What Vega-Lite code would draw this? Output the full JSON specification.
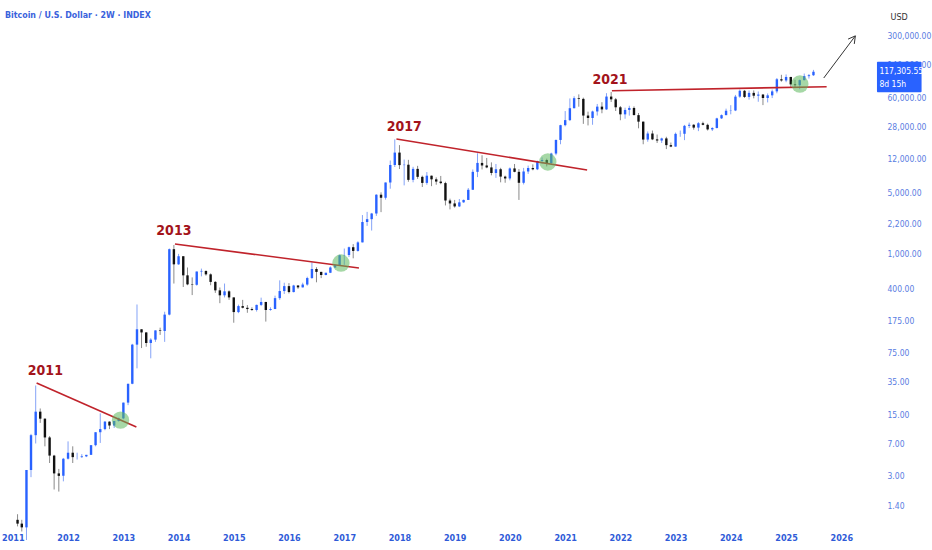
{
  "$schema": "https://vega.github.io/schema/vega-lite/v6.json",
  "width": 880,
  "height": 528,
  "autosize": "none",
  "padding": {"left": 0, "top": 0, "right": 52, "bottom": 22},
  "background": "#ffffff",
  "title": {
    "text": "Bitcoin / U.S. Dollar · 2W · INDEX",
    "anchor": "start",
    "frame": "group",
    "orient": "top",
    "offset": -20,
    "dx": 5,
    "font": "DejaVu Sans Condensed, Roboto, sans-serif",
    "fontSize": 8.8,
    "fontWeight": "bold",
    "color": "#3a62dc"
  },
  "config": {
    "view": {"stroke": null},
    "axis": {"labelFont": "DejaVu Sans Condensed, Roboto, sans-serif", "grid": false, "domain": false, "ticks": false, "tickSize": 0}
  },
  "datasets": {
    "candles": [
      {"d":"2011-02-01","o":0.95,"h":1.1,"l":0.8,"c":0.86},
      {"d":"2011-03-01","o":0.86,"h":0.95,"l":0.7,"c":0.78},
      {"d":"2011-04-01","o":0.78,"h":3.5,"l":0.56,"c":3.5},
      {"d":"2011-05-01","o":3.5,"h":9,"l":2.9,"c":8.7},
      {"d":"2011-06-01","o":8.7,"h":31.9,"l":7,"c":16.1},
      {"d":"2011-07-01","o":16.1,"h":17.5,"l":12,"c":13.4},
      {"d":"2011-08-01","o":13.4,"h":13.5,"l":6.5,"c":8.2},
      {"d":"2011-09-01","o":8.2,"h":8.5,"l":4.2,"c":5.1},
      {"d":"2011-10-01","o":5.1,"h":5.2,"l":2.1,"c":3.2},
      {"d":"2011-11-01","o":3.2,"h":3.6,"l":1.99,"c":3},
      {"d":"2011-12-01","o":3,"h":4.8,"l":2.6,"c":4.7},
      {"d":"2012-01-01","o":4.7,"h":7.4,"l":4.6,"c":5.5},
      {"d":"2012-02-01","o":5.5,"h":6.5,"l":4.2,"c":4.9},
      {"d":"2012-03-01","o":4.9,"h":5.5,"l":4.6,"c":4.9},
      {"d":"2012-04-01","o":4.9,"h":5.3,"l":4.8,"c":5.0},
      {"d":"2012-05-01","o":5,"h":5.2,"l":4.9,"c":5.2},
      {"d":"2012-06-01","o":5.2,"h":6.7,"l":5.2,"c":6.7},
      {"d":"2012-07-01","o":6.7,"h":9.4,"l":6.5,"c":9.4},
      {"d":"2012-08-01","o":9.4,"h":15.4,"l":7.1,"c":10.2},
      {"d":"2012-09-01","o":10.2,"h":12.6,"l":9.9,"c":12.4},
      {"d":"2012-10-01","o":12.4,"h":12.5,"l":10.2,"c":11.2},
      {"d":"2012-11-01","o":11.2,"h":12.6,"l":10.5,"c":12.6},
      {"d":"2012-12-01","o":12.6,"h":13.8,"l":12.4,"c":13.5},
      {"d":"2013-01-01","o":13.5,"h":20.4,"l":13.2,"c":20.4},
      {"d":"2013-02-01","o":20.4,"h":33.4,"l":19.1,"c":33.4},
      {"d":"2013-03-01","o":33.4,"h":95,"l":33,"c":93},
      {"d":"2013-04-01","o":93,"h":266,"l":50,"c":139},
      {"d":"2013-05-01","o":139,"h":139,"l":85,"c":128},
      {"d":"2013-06-01","o":128,"h":129,"l":88,"c":97},
      {"d":"2013-07-01","o":97,"h":110,"l":65,"c":106},
      {"d":"2013-08-01","o":106,"h":135,"l":100,"c":135},
      {"d":"2013-09-01","o":135,"h":145,"l":120,"c":133},
      {"d":"2013-10-01","o":133,"h":220,"l":100,"c":204},
      {"d":"2013-11-01","o":204,"h":1150,"l":200,"c":1130},
      {"d":"2013-12-01","o":1130,"h":1260,"l":460,"c":760},
      {"d":"2014-01-01","o":760,"h":1000,"l":750,"c":940},
      {"d":"2014-02-01","o":940,"h":940,"l":420,"c":570},
      {"d":"2014-03-01","o":570,"h":700,"l":440,"c":450},
      {"d":"2014-04-01","o":450,"h":540,"l":340,"c":445},
      {"d":"2014-05-01","o":445,"h":630,"l":435,"c":630},
      {"d":"2014-06-01","o":630,"h":680,"l":555,"c":640},
      {"d":"2014-07-01","o":640,"h":645,"l":565,"c":585},
      {"d":"2014-08-01","o":585,"h":600,"l":440,"c":480},
      {"d":"2014-09-01","o":480,"h":490,"l":360,"c":385},
      {"d":"2014-10-01","o":385,"h":415,"l":275,"c":338},
      {"d":"2014-11-01","o":338,"h":460,"l":320,"c":375},
      {"d":"2014-12-01","o":375,"h":385,"l":300,"c":320},
      {"d":"2015-01-01","o":320,"h":320,"l":165,"c":218},
      {"d":"2015-02-01","o":218,"h":265,"l":212,"c":255},
      {"d":"2015-03-01","o":255,"h":300,"l":240,"c":244},
      {"d":"2015-04-01","o":244,"h":262,"l":214,"c":236},
      {"d":"2015-05-01","o":236,"h":247,"l":225,"c":230},
      {"d":"2015-06-01","o":230,"h":265,"l":221,"c":263},
      {"d":"2015-07-01","o":263,"h":318,"l":255,"c":284},
      {"d":"2015-08-01","o":284,"h":285,"l":170,"c":230},
      {"d":"2015-09-01","o":230,"h":247,"l":226,"c":236},
      {"d":"2015-10-01","o":236,"h":335,"l":236,"c":314},
      {"d":"2015-11-01","o":314,"h":500,"l":300,"c":378},
      {"d":"2015-12-01","o":378,"h":470,"l":350,"c":430},
      {"d":"2016-01-01","o":430,"h":465,"l":355,"c":368},
      {"d":"2016-02-01","o":368,"h":445,"l":365,"c":437},
      {"d":"2016-03-01","o":437,"h":440,"l":400,"c":416},
      {"d":"2016-04-01","o":416,"h":470,"l":415,"c":448},
      {"d":"2016-05-01","o":448,"h":550,"l":435,"c":531},
      {"d":"2016-06-01","o":531,"h":800,"l":520,"c":673},
      {"d":"2016-07-01","o":673,"h":705,"l":475,"c":624},
      {"d":"2016-08-01","o":624,"h":625,"l":530,"c":575},
      {"d":"2016-09-01","o":575,"h":610,"l":570,"c":610},
      {"d":"2016-10-01","o":610,"h":720,"l":605,"c":700},
      {"d":"2016-11-01","o":700,"h":755,"l":690,"c":745},
      {"d":"2016-12-01","o":745,"h":980,"l":740,"c":964},
      {"d":"2017-01-01","o":964,"h":1150,"l":750,"c":970},
      {"d":"2017-02-01","o":970,"h":1210,"l":920,"c":1190},
      {"d":"2017-03-01","o":1190,"h":1290,"l":890,"c":1080},
      {"d":"2017-04-01","o":1080,"h":1390,"l":1060,"c":1350},
      {"d":"2017-05-01","o":1350,"h":2760,"l":1350,"c":2300},
      {"d":"2017-06-01","o":2300,"h":3000,"l":2080,"c":2480},
      {"d":"2017-07-01","o":2480,"h":2920,"l":1840,"c":2875},
      {"d":"2017-08-01","o":2875,"h":4760,"l":2700,"c":4700},
      {"d":"2017-09-01","o":4700,"h":5000,"l":2980,"c":4340},
      {"d":"2017-10-01","o":4340,"h":6470,"l":4130,"c":6470},
      {"d":"2017-11-01","o":6470,"h":11500,"l":5500,"c":10230},
      {"d":"2017-12-01","o":10230,"h":20000,"l":9700,"c":14150},
      {"d":"2018-01-01","o":14150,"h":17200,"l":9200,"c":10200},
      {"d":"2018-02-01","o":10200,"h":11800,"l":6000,"c":10300},
      {"d":"2018-03-01","o":10300,"h":11700,"l":6600,"c":6930},
      {"d":"2018-04-01","o":6930,"h":9750,"l":6500,"c":9240},
      {"d":"2018-05-01","o":9240,"h":10000,"l":7100,"c":7500},
      {"d":"2018-06-01","o":7500,"h":7750,"l":5750,"c":6400},
      {"d":"2018-07-01","o":6400,"h":8500,"l":6100,"c":7730},
      {"d":"2018-08-01","o":7730,"h":7760,"l":5880,"c":7030},
      {"d":"2018-09-01","o":7030,"h":7400,"l":6100,"c":6630},
      {"d":"2018-10-01","o":6630,"h":7680,"l":6180,"c":6370},
      {"d":"2018-11-01","o":6370,"h":6600,"l":3550,"c":4040},
      {"d":"2018-12-01","o":4040,"h":4240,"l":3200,"c":3740},
      {"d":"2019-01-01","o":3740,"h":4100,"l":3350,"c":3460},
      {"d":"2019-02-01","o":3460,"h":4200,"l":3400,"c":3850},
      {"d":"2019-03-01","o":3850,"h":4140,"l":3800,"c":4100},
      {"d":"2019-04-01","o":4100,"h":5600,"l":4090,"c":5350},
      {"d":"2019-05-01","o":5350,"h":9100,"l":5330,"c":8550},
      {"d":"2019-06-01","o":8550,"h":13900,"l":7450,"c":10800},
      {"d":"2019-07-01","o":10800,"h":13200,"l":9100,"c":10100},
      {"d":"2019-08-01","o":10100,"h":12300,"l":9400,"c":9600},
      {"d":"2019-09-01","o":9600,"h":10950,"l":7800,"c":8300},
      {"d":"2019-10-01","o":8300,"h":10500,"l":7300,"c":9150},
      {"d":"2019-11-01","o":9150,"h":9500,"l":6500,"c":7550},
      {"d":"2019-12-01","o":7550,"h":7750,"l":6430,"c":7190},
      {"d":"2020-01-01","o":7190,"h":9580,"l":6850,"c":9350},
      {"d":"2020-02-01","o":9350,"h":10500,"l":8450,"c":8550},
      {"d":"2020-03-01","o":8550,"h":9190,"l":4100,"c":6420},
      {"d":"2020-04-01","o":6420,"h":9480,"l":6150,"c":8630},
      {"d":"2020-05-01","o":8630,"h":10070,"l":8100,"c":9450},
      {"d":"2020-06-01","o":9450,"h":10400,"l":8900,"c":9140},
      {"d":"2020-07-01","o":9140,"h":11450,"l":8950,"c":11350},
      {"d":"2020-08-01","o":11350,"h":12480,"l":10600,"c":11650},
      {"d":"2020-09-01","o":11650,"h":12070,"l":9850,"c":10780},
      {"d":"2020-10-01","o":10780,"h":14100,"l":10400,"c":13800},
      {"d":"2020-11-01","o":13800,"h":19900,"l":13200,"c":19700},
      {"d":"2020-12-01","o":19700,"h":29300,"l":17600,"c":29000},
      {"d":"2021-01-01","o":29000,"h":41950,"l":28100,"c":33100},
      {"d":"2021-02-01","o":33100,"h":58350,"l":32300,"c":45200},
      {"d":"2021-03-01","o":45200,"h":61800,"l":45000,"c":58800},
      {"d":"2021-04-01","o":58800,"h":64900,"l":47000,"c":57700},
      {"d":"2021-05-01","o":57700,"h":59600,"l":30000,"c":37300},
      {"d":"2021-06-01","o":37300,"h":41300,"l":28800,"c":35000},
      {"d":"2021-07-01","o":35000,"h":42400,"l":29300,"c":41500},
      {"d":"2021-08-01","o":41500,"h":50500,"l":37300,"c":47100},
      {"d":"2021-09-01","o":47100,"h":52900,"l":39600,"c":43800},
      {"d":"2021-10-01","o":43800,"h":67000,"l":43300,"c":61300},
      {"d":"2021-11-01","o":61300,"h":69000,"l":53200,"c":57000},
      {"d":"2021-12-01","o":57000,"h":59100,"l":42000,"c":46300},
      {"d":"2022-01-01","o":46300,"h":47900,"l":33000,"c":38500},
      {"d":"2022-02-01","o":38500,"h":45800,"l":34300,"c":43200},
      {"d":"2022-03-01","o":43200,"h":48200,"l":37200,"c":45500},
      {"d":"2022-04-01","o":45500,"h":47400,"l":37700,"c":37700},
      {"d":"2022-05-01","o":37700,"h":39900,"l":26700,"c":31800},
      {"d":"2022-06-01","o":31800,"h":31900,"l":17600,"c":19900},
      {"d":"2022-07-01","o":19900,"h":24600,"l":18800,"c":23300},
      {"d":"2022-08-01","o":23300,"h":25200,"l":19600,"c":20000},
      {"d":"2022-09-01","o":20000,"h":22700,"l":18200,"c":19400},
      {"d":"2022-10-01","o":19400,"h":20900,"l":18200,"c":20500},
      {"d":"2022-11-01","o":20500,"h":21400,"l":15500,"c":17200},
      {"d":"2022-12-01","o":17200,"h":18400,"l":16300,"c":16550},
      {"d":"2023-01-01","o":16550,"h":23900,"l":16500,"c":23100},
      {"d":"2023-02-01","o":23100,"h":25200,"l":21400,"c":23150},
      {"d":"2023-03-01","o":23150,"h":29200,"l":19600,"c":28500},
      {"d":"2023-04-01","o":28500,"h":31000,"l":26900,"c":29300},
      {"d":"2023-05-01","o":29300,"h":29800,"l":25800,"c":27200},
      {"d":"2023-06-01","o":27200,"h":31400,"l":24800,"c":30500},
      {"d":"2023-07-01","o":30500,"h":31800,"l":28900,"c":29250},
      {"d":"2023-08-01","o":29250,"h":30200,"l":25200,"c":25950},
      {"d":"2023-09-01","o":25950,"h":27500,"l":24900,"c":26950},
      {"d":"2023-10-01","o":26950,"h":35200,"l":26600,"c":34650},
      {"d":"2023-11-01","o":34650,"h":38400,"l":34100,"c":37700},
      {"d":"2023-12-01","o":37700,"h":44700,"l":37600,"c":42300},
      {"d":"2024-01-01","o":42300,"h":48900,"l":38500,"c":42600},
      {"d":"2024-02-01","o":42600,"h":64000,"l":41900,"c":61200},
      {"d":"2024-03-01","o":61200,"h":73800,"l":59300,"c":71300},
      {"d":"2024-04-01","o":71300,"h":72800,"l":59100,"c":60700},
      {"d":"2024-05-01","o":60700,"h":71900,"l":56600,"c":67500},
      {"d":"2024-06-01","o":67500,"h":72000,"l":58500,"c":62700},
      {"d":"2024-07-01","o":62700,"h":70000,"l":53500,"c":64600},
      {"d":"2024-08-01","o":64600,"h":65600,"l":49000,"c":59000},
      {"d":"2024-09-01","o":59000,"h":66500,"l":52600,"c":63300},
      {"d":"2024-10-01","o":63300,"h":73600,"l":58900,"c":70200},
      {"d":"2024-11-01","o":70200,"h":99600,"l":66800,"c":96400},
      {"d":"2024-12-01","o":96400,"h":108300,"l":90500,"c":93400},
      {"d":"2025-01-01","o":93400,"h":109400,"l":89200,"c":102400},
      {"d":"2025-02-01","o":102400,"h":102500,"l":78200,"c":84300},
      {"d":"2025-03-01","o":84300,"h":95000,"l":76600,"c":82500},
      {"d":"2025-04-01","o":82500,"h":95800,"l":74400,"c":94200},
      {"d":"2025-05-01","o":94200,"h":111900,"l":93400,"c":104600},
      {"d":"2025-06-01","o":104600,"h":110500,"l":98200,"c":107100},
      {"d":"2025-07-01","o":107100,"h":123200,"l":105100,"c":117305.55}
    ],
    "trend": [
      {"d1":"2011-06-07","p1":34,"d2":"2013-03-28","p2":10.8},
      {"d1":"2013-12-08","p1":1295,"d2":"2017-04-08","p2":690},
      {"d1":"2017-12-12","p1":20190,"d2":"2021-05-26","p2":8977},
      {"d1":"2021-11-06","p1":71500,"d2":"2025-09-26","p2":79300}
    ],
    "circles": [
      {"d":"2012-12-13","p":12.9},
      {"d":"2016-12-10","p":787},
      {"d":"2020-09-08","p":11070},
      {"d":"2025-04-02","p":85100}
    ],
    "labels": [
      {"d":"2011-08-04","p":46.6,"t":"2011"},
      {"d":"2013-12-01","p":1820,"t":"2013"},
      {"d":"2018-02-02","p":27600,"t":"2017"},
      {"d":"2021-10-25","p":94600,"t":"2021"}
    ],
    "arrow": [
      {"d1":"2025-09-07","p1":99600,"d2":"2026-04-04","p2":300000}
    ],
    "arrowhead": [
      {"i":0,"d":"2026-02-15","p":275700},
      {"i":1,"d":"2026-04-04","p":300000},
      {"i":2,"d":"2026-03-28","p":243000}
    ],
    "pricebox": [
      {"d1":"2026-08-25","d2":"2027-06-16","p1":68700,"p2":152000}
    ],
    "pricetext": [
      {"d":"2026-09-10","p":119700,"t":"117,305.55"},
      {"d":"2026-09-10","p":85100,"t":"8d 15h"}
    ]
  },
  "layer": [
    {
      "data": {"name": "candles"},
      "mark": {"type": "rule", "strokeWidth": 1},
      "encoding": {
        "x": {
          "field": "d", "type": "temporal",
          "scale": {"domain": ["2010-11-10", "2026-08-12"]},
          "axis": {
            "title": null, "format": "%Y",
            "tickCount": {"interval": "year", "step": 1},
            "labelColor": "#2f5bd8", "labelFontSize": 9, "labelFontWeight": "bold",
            "labelPadding": 5, "labelFlush": false, "labelOverlap": false
          }
        },
        "y": {
          "field": "l", "type": "quantitative",
          "scale": {"type": "log", "domain": [0.767, 766900], "nice": false, "zero": false},
          "axis": {
            "orient": "right", "title": "USD", "titleAngle": 0, "titleAlign": "left",
            "titleBaseline": "middle", "titleX": 10, "titleY": 16, "titleFontSize": 9,
            "titleFontWeight": "normal", "titleColor": "#333333", "titleFont": "DejaVu Sans Condensed, Roboto, sans-serif",
            "values": [1.4, 3, 7, 15, 35, 75, 175, 400, 1000, 2200, 5000, 12000, 28000, 60000, 140000, 300000],
            "format": ",.2f", "labelColor": "#5a7de2", "labelFontSize": 8.5, "labelPadding": 7
          }
        },
        "y2": {"field": "h"},
        "color": {"condition": {"test": "datum.c >= datum.o", "value": "#85a3f7"}, "value": "#8a8a8a"}
      }
    },
    {
      "data": {"name": "candles"},
      "mark": {"type": "bar", "width": 2.4},
      "encoding": {
        "x": {"field": "d", "type": "temporal", "scale": {"domain": ["2010-11-10", "2026-08-12"]}},
        "y": {"field": "o", "type": "quantitative", "scale": {"type": "log", "domain": [0.767, 766900], "nice": false, "zero": false}},
        "y2": {"field": "c"},
        "color": {"condition": {"test": "datum.c >= datum.o", "value": "#2962ff"}, "value": "#111111"}
      }
    },
    {
      "data": {"name": "trend"},
      "mark": {"type": "rule", "color": "#c0232b", "strokeWidth": 1.6},
      "encoding": {
        "x": {"field": "d1", "type": "temporal"},
        "x2": {"field": "d2"},
        "y": {"field": "p1", "type": "quantitative"},
        "y2": {"field": "p2"}
      }
    },
    {
      "data": {"name": "circles"},
      "mark": {"type": "point", "shape": "circle", "filled": true, "color": "#5cb85c", "opacity": 0.55, "size": 300},
      "encoding": {
        "x": {"field": "d", "type": "temporal"},
        "y": {"field": "p", "type": "quantitative"}
      }
    },
    {
      "data": {"name": "labels"},
      "mark": {"type": "text", "font": "DejaVu Sans Condensed, Roboto, sans-serif", "fontSize": 14, "fontWeight": "bold", "color": "#a3141b", "baseline": "middle", "align": "center"},
      "encoding": {
        "x": {"field": "d", "type": "temporal"},
        "y": {"field": "p", "type": "quantitative"},
        "text": {"field": "t"}
      }
    },
    {
      "data": {"name": "arrow"},
      "mark": {"type": "rule", "color": "#333333", "strokeWidth": 1},
      "encoding": {
        "x": {"field": "d1", "type": "temporal"},
        "x2": {"field": "d2"},
        "y": {"field": "p1", "type": "quantitative"},
        "y2": {"field": "p2"}
      }
    },
    {
      "data": {"name": "arrowhead"},
      "mark": {"type": "line", "color": "#333333", "strokeWidth": 1},
      "encoding": {
        "x": {"field": "d", "type": "temporal"},
        "y": {"field": "p", "type": "quantitative"},
        "order": {"field": "i"}
      }
    },
    {
      "data": {"name": "pricebox"},
      "mark": {"type": "rect", "color": "#2962ff", "cornerRadius": 1},
      "encoding": {
        "x": {"field": "d1", "type": "temporal"},
        "x2": {"field": "d2"},
        "y": {"field": "p1", "type": "quantitative"},
        "y2": {"field": "p2"}
      }
    },
    {
      "data": {"name": "pricetext"},
      "mark": {"type": "text", "font": "DejaVu Sans Condensed, Roboto, sans-serif", "fontSize": 8.5, "color": "#ffffff", "align": "left", "baseline": "middle"},
      "encoding": {
        "x": {"field": "d", "type": "temporal"},
        "y": {"field": "p", "type": "quantitative"},
        "text": {"field": "t"}
      }
    }
  ]
}
